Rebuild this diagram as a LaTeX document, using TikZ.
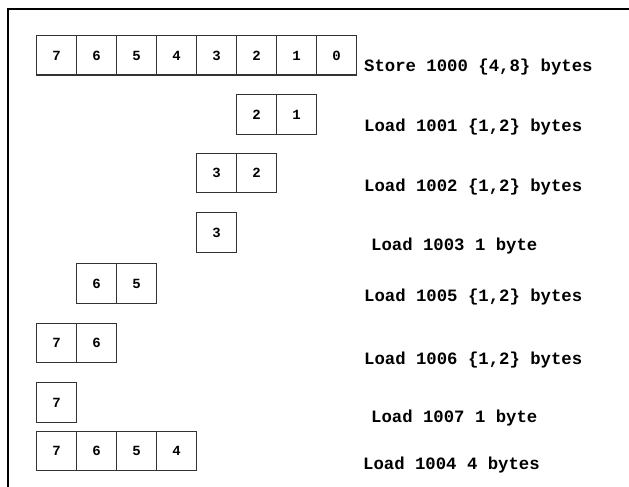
\documentclass[tikz,border=0pt]{standalone}
\usepackage{fontspec}
\setmonofont{Liberation Mono}
\tikzset{
  cell/.style={draw=black!80, line width=1.2pt, minimum width=40pt, minimum height=39.5pt, inner sep=0pt, text height=9.5pt, text depth=0pt, anchor=north west, font=\ttfamily\bfseries\fontsize{14}{14}\selectfont},
  lbl/.style={anchor=base west, inner sep=0pt, font=\ttfamily\bfseries\fontsize{17.3}{17.3}\selectfont},
  frame/.style={line width=2pt, black}
}
\begin{document}
\begin{tikzpicture}[x=1pt, y=-1pt]
\useasboundingbox (0,0) rectangle (629,487);
\coordinate (fTL) at (8,9);
\coordinate (fTR) at (629,9);
\coordinate (fBL) at (8,487);
\draw[frame] (fTR) -- (fTL) -- (fBL);
% Row 1: store
\foreach \d [count=\i from 0] in {7,6,5,4,3,2,1,0} {
  \node[cell] (s\d) at (36+40*\i,35) {\d};
}
\node[lbl] (l1) at (364,72) {Store 1000 \{4,8\} bytes};
% Row 2
\node[cell] (a2) at (236,94) {2};
\node[cell] (a1) at (276,94) {1};
\node[lbl] (l2) at (364,131.5) {Load 1001 \{1,2\} bytes};
% Row 3
\node[cell] (b3) at (196,152.5) {3};
\node[cell] (b2) at (236,152.5) {2};
\node[lbl] (l3) at (364,191.5) {Load 1002 \{1,2\} bytes};
% Row 4
\node[cell] (c3) at (196,212) {3};
\node[lbl] (l4) at (371,250) {Load 1003 1 byte};
% Row 5
\node[cell] (d6) at (76,263) {6};
\node[cell] (d5) at (116,263) {5};
\node[lbl] (l5) at (364,301.5) {Load 1005 \{1,2\} bytes};
% Row 6
\node[cell] (e7) at (36,322.5) {7};
\node[cell] (e6) at (76,322.5) {6};
\node[lbl] (l6) at (364,364) {Load 1006 \{1,2\} bytes};
% Row 7
\node[cell] (f7) at (36,382) {7};
\node[lbl] (l7) at (371,422) {Load 1007 1 byte};
% Row 8
\node[cell] (g7) at (36,430.5) {7};
\node[cell] (g6) at (76,430.5) {6};
\node[cell] (g5) at (116,430.5) {5};
\node[cell] (g4) at (156,430.5) {4};
\node[lbl] (l8) at (363,469) {Load 1004 4 bytes};
\end{tikzpicture}
\end{document}
